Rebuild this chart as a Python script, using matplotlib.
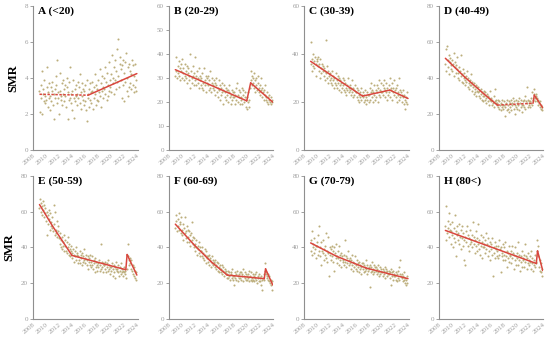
import numpy as np
import matplotlib
matplotlib.use("Agg")
import matplotlib.pyplot as plt

# ---------------- data (monthly SMR, Jan 2009 .. Dec 2023) ----------------
panel_titles = ["A (<20)", "B (20-29)", "C (30-39)", "D (40-49)",
                "E (50-59)", "F (60-69)", "G (70-79)", "H (80<)"]

smr_a = [3.3, 2.1, 3.6, 2.9, 4.4, 2.0, 3.1, 3.4, 2.7, 3.9, 3.0, 2.6,
         2.8, 3.5, 4.6, 2.4, 3.2, 2.9, 3.7, 2.2, 3.0, 3.5, 2.7, 3.3,
         3.8, 2.5, 3.1, 1.7, 3.4, 2.9, 4.1, 3.6, 2.6, 5.0, 3.2, 2.9,
         2.0, 3.3, 4.3, 2.8, 3.0, 3.7, 2.5, 3.9, 3.1, 2.7, 3.4, 3.6,
         3.0, 2.4, 3.5, 4.0, 1.7, 3.2, 2.8, 3.8, 2.9, 4.6, 3.1, 2.6,
         3.3, 2.2, 3.9, 2.9, 1.8, 3.4, 2.7, 3.6, 3.0, 3.1, 2.5, 3.8,
         2.9, 3.5, 4.2, 2.6, 3.2, 2.3, 3.7, 3.0, 2.8, 3.4, 2.5, 3.3,
         3.6, 2.7, 2.2, 3.9, 1.6, 3.1, 2.9, 3.4, 2.4, 3.7, 2.8, 3.2,
         2.6, 3.3, 3.8, 2.3, 3.5, 2.9, 4.2, 3.1, 2.5, 3.6, 2.8, 3.4,
         3.9, 2.7, 3.2, 4.5, 3.0, 2.4, 3.7, 3.3, 4.1, 2.9, 3.5, 4.0,
         3.4, 4.6, 3.1, 3.8, 2.8, 4.3, 3.6, 3.0, 4.9, 3.3, 3.9, 3.5,
         4.2, 3.2, 5.3, 3.7, 4.0, 3.1, 4.6, 3.9, 5.0, 3.4, 4.4, 3.8,
         5.6, 4.1, 6.2, 3.5, 4.8, 5.2, 3.9, 4.5, 2.9, 4.7, 3.6, 5.0,
         4.3, 2.7, 4.9, 3.8, 5.4, 4.0, 3.3, 4.6, 3.0, 4.8, 3.5, 4.4,
         3.7, 4.2, 3.4, 5.0, 3.6, 4.7, 3.2, 4.1, 3.5, 4.8, 3.9, 3.3]

smr_b = [31, 39, 33, 30, 35, 32, 37, 31, 34, 29, 36, 33,
         30, 38, 32, 34, 29, 36, 31, 33, 30, 35, 28, 32,
         34, 29, 31, 26, 40, 33, 30, 28, 35, 31, 27, 32,
         29, 39, 31, 27, 33, 28, 30, 34, 26, 29, 31, 27,
         30, 26, 32, 28, 25, 34, 29, 27, 31, 24, 28, 30,
         27, 31, 25, 29, 26, 33, 24, 28, 30, 26, 27, 29,
         25, 28, 23, 27, 30, 24, 26, 22, 29, 25, 27, 21,
         26, 23, 28, 24, 19, 25, 27, 22, 24, 26, 21, 25,
         23, 25, 20, 24, 27, 22, 23, 19, 25, 21, 24, 22,
         22, 24, 19, 23, 26, 21, 28, 20, 23, 22, 25, 19,
         24, 21, 22, 26, 19, 23, 25, 20, 22, 24, 18, 21,
         22, 17, 20, 24, 18, 21, 26, 33, 29, 31, 27, 30,
         28, 32, 26, 24, 29, 27, 30, 25, 28, 31, 26, 24,
         27, 23, 25, 30, 22, 26, 24, 21, 25, 23, 27, 22,
         21, 24, 20, 22, 19, 23, 21, 20, 22, 19, 21, 20]

smr_c = [36, 45, 33, 38, 35, 40, 37, 34, 39, 36, 31, 38,
         37, 35, 39, 33, 36, 30, 38, 34, 32, 36, 35, 33,
         31, 34, 29, 33, 46, 32, 30, 35, 28, 33, 31, 29,
         32, 28, 30, 27, 33, 29, 31, 26, 30, 28, 32, 27,
         29, 26, 31, 28, 25, 30, 27, 29, 24, 28, 26, 30,
         27, 25, 29, 24, 28, 26, 23, 27, 25, 30, 24, 26,
         25, 27, 23, 26, 29, 24, 22, 26, 25, 23, 27, 24,
         24, 22, 26, 21, 25, 23, 20, 24, 22, 26, 21, 23,
         22, 24, 20, 23, 21, 25, 19, 22, 24, 21, 23, 20,
         23, 26, 21, 24, 28, 22, 25, 20, 24, 27, 23, 21,
         25, 22, 27, 24, 20, 26, 23, 29, 25, 22, 24, 28,
         24, 27, 23, 26, 29, 22, 25, 28, 24, 21, 26, 23,
         27, 24, 30, 22, 26, 25, 28, 21, 24, 26, 29, 23,
         25, 22, 26, 20, 27, 23, 24, 30, 21, 25, 22, 24,
         23, 20, 22, 25, 19, 23, 21, 17, 22, 20, 24, 19]

smr_d = [48, 56, 44, 58, 50, 46, 53, 42, 49, 51, 45, 47,
         50, 44, 48, 54, 41, 46, 49, 43, 47, 45, 52, 40,
         43, 46, 39, 44, 41, 53, 38, 42, 45, 37, 40, 43,
         39, 36, 41, 38, 44, 35, 40, 37, 34, 39, 36, 42,
         36, 33, 38, 35, 31, 37, 34, 32, 36, 30, 35, 33,
         32, 35, 30, 33, 29, 31, 34, 28, 32, 30, 27, 33,
         30, 28, 32, 26, 29, 31, 27, 30, 25, 29, 33, 28,
         27, 29, 25, 28, 26, 30, 24, 27, 34, 26, 28, 25,
         26, 24, 28, 23, 27, 25, 22, 26, 24, 28, 25, 23,
         25, 27, 19, 24, 26, 22, 28, 25, 23, 27, 21, 26,
         24, 28, 22, 26, 25, 29, 23, 27, 20, 25, 28, 24,
         26, 23, 27, 25, 29, 22, 26, 24, 28, 21, 25, 27,
         25, 28, 24, 30, 23, 27, 26, 35, 24, 28, 25, 27,
         27, 24, 29, 26, 32, 25, 28, 31, 34, 29, 27, 31,
         30, 27, 29, 25, 28, 26, 24, 27, 23, 25, 22, 24]

smr_e = [62, 67, 60, 65, 58, 63, 61, 66, 57, 64, 59, 62,
         55, 60, 47, 58, 53, 61, 56, 50, 59, 54, 52, 57,
         51, 49, 64, 53, 47, 60, 50, 48, 55, 46, 52, 49,
         45, 42, 48, 40, 44, 46, 39, 43, 41, 47, 38, 44,
         41, 38, 43, 37, 40, 46, 36, 42, 39, 35, 41, 38,
         37, 34, 39, 36, 32, 38, 35, 40, 33, 37, 36, 31,
         35, 33, 38, 31, 36, 34, 30, 37, 32, 35, 39, 33,
         34, 31, 36, 30, 33, 35, 28, 32, 34, 30, 36, 29,
         32, 30, 35, 28, 33, 31, 26, 34, 29, 32, 30, 27,
         31, 29, 33, 27, 30, 42, 28, 32, 29, 26, 31, 30,
         30, 28, 32, 26, 29, 31, 27, 33, 28, 30, 25, 29,
         29, 27, 31, 24, 28, 30, 26, 29, 23, 28, 32, 27,
         28, 26, 30, 24, 27, 29, 25, 31, 26, 28, 24, 27,
         26, 29, 25, 27, 23, 28, 36, 42, 35, 33, 30, 34,
         31, 28, 33, 27, 30, 25, 29, 24, 27, 23, 26, 22]

smr_f = [51, 58, 55, 49, 56, 52, 59, 50, 54, 53, 48, 57,
         50, 47, 53, 44, 51, 48, 57, 45, 49, 52, 43, 50,
         46, 49, 43, 47, 41, 48, 44, 54, 42, 46, 40, 45,
         42, 38, 44, 40, 36, 41, 39, 43, 37, 40, 35, 38,
         38, 35, 40, 34, 37, 33, 39, 36, 31, 38, 35, 34,
         35, 32, 36, 30, 34, 33, 29, 35, 31, 33, 30, 32,
         31, 29, 33, 28, 30, 32, 27, 31, 29, 26, 30, 28,
         28, 26, 30, 25, 27, 29, 24, 28, 26, 25, 27, 23,
         25, 27, 23, 26, 24, 22, 26, 25, 23, 28, 24, 22,
         24, 19, 26, 23, 25, 22, 27, 24, 21, 25, 23, 26,
         23, 26, 22, 25, 24, 28, 21, 24, 26, 23, 25, 22,
         24, 22, 25, 23, 27, 21, 24, 22, 26, 23, 21, 25,
         22, 24, 21, 25, 23, 26, 22, 20, 24, 23, 21, 25,
         23, 21, 24, 19, 22, 16, 23, 25, 22, 31, 27, 25,
         26, 24, 23, 25, 22, 21, 24, 20, 22, 19, 21, 16]

smr_g = [38, 44, 36, 49, 40, 42, 37, 45, 39, 41, 34, 43,
         41, 36, 47, 38, 52, 35, 40, 43, 30, 38, 44, 37,
         39, 33, 41, 36, 48, 34, 38, 32, 46, 37, 24, 40,
         36, 39, 33, 41, 35, 38, 32, 40, 27, 37, 34, 42,
         35, 31, 38, 34, 41, 30, 36, 33, 37, 29, 35, 32,
         33, 36, 30, 44, 32, 35, 29, 34, 31, 38, 30, 33,
         31, 34, 28, 33, 30, 36, 27, 32, 29, 31, 35, 28,
         30, 27, 33, 29, 31, 26, 32, 28, 30, 25, 29, 31,
         28, 31, 26, 30, 27, 29, 33, 28, 25, 30, 27, 29,
         28, 18, 30, 26, 29, 27, 32, 25, 28, 30, 26, 29,
         27, 29, 25, 28, 26, 30, 24, 27, 29, 25, 28, 26,
         26, 28, 24, 27, 25, 29, 23, 26, 28, 24, 27, 25,
         25, 27, 23, 26, 19, 28, 24, 26, 22, 27, 25, 24,
         24, 26, 22, 25, 21, 27, 23, 29, 22, 25, 33, 24,
         23, 25, 21, 24, 22, 26, 20, 23, 19, 22, 24, 20]

smr_h = [52, 44, 63, 48, 55, 51, 59, 46, 53, 50, 42, 49,
         47, 54, 40, 51, 45, 58, 43, 49, 35, 47, 52, 44,
         48, 42, 53, 46, 50, 39, 45, 52, 41, 48, 44, 33,
         46, 30, 49, 43, 52, 41, 47, 38, 45, 50, 42, 44,
         43, 47, 40, 54, 42, 46, 37, 44, 49, 41, 45, 38,
         42, 53, 39, 44, 36, 47, 41, 43, 34, 46, 40, 42,
         40, 44, 37, 48, 39, 42, 35, 45, 38, 41, 33, 43,
         39, 42, 36, 45, 24, 40, 37, 43, 34, 39, 41, 35,
         38, 41, 34, 44, 36, 39, 26, 40, 35, 37, 42, 33,
         36, 40, 33, 43, 35, 38, 29, 37, 34, 41, 32, 36,
         35, 38, 31, 41, 34, 37, 28, 36, 33, 40, 30, 35,
         34, 37, 30, 43, 33, 36, 27, 35, 32, 38, 29, 34,
         33, 36, 29, 42, 32, 35, 28, 34, 31, 37, 30, 33,
         32, 35, 28, 38, 31, 34, 27, 33, 30, 36, 29, 32,
         31, 38, 44, 41, 35, 29, 33, 27, 31, 26, 28, 24]

# joinpoint trend lines: (years, fitted SMR, segment styles)
trend_a = ([2009, 2016.5, 2024], [3.1, 3.05, 4.25], ["--", "-"])
trend_b = ([2009, 2020.0, 2020.6, 2024], [33.5, 20.5, 28, 20], ["-", "-", "-"])
trend_c = ([2009, 2012, 2017, 2021.2, 2024], [37, 31.5, 22.5, 25, 21.5], ["-", "-", "-", "-"])
trend_d = ([2009, 2012, 2015, 2017, 2022.5, 2022.7, 2024], [51, 40.5, 31, 25, 26, 30.5, 23.5],
           ["-", "-", "-", "--", "-", "-"])
trend_e = ([2009, 2011, 2014, 2022.3, 2022.5, 2024], [64, 52, 35.5, 27.5, 36, 24.5],
           ["-", "-", "-", "-", "-"])
trend_f = ([2009, 2012, 2014.5, 2017, 2022.7, 2022.9, 2024], [53, 41, 32, 24.5, 22.5, 28, 19],
           ["-", "-", "-", "-", "-", "-"])
trend_g = ([2009, 2013, 2017.5, 2024], [42.5, 35, 28.5, 22.5], ["-", "-", "-"])
trend_h = ([2009, 2023, 2023.2, 2024], [49.5, 31, 38, 27], ["-", "-", "-"])

y_max = [8, 60, 60, 80, 80, 80, 80, 80]
y_step = [2, 10, 20, 20, 20, 20, 20, 20]
year_ticks = list(range(2008, 2025, 2))

series = [smr_a, smr_b, smr_c, smr_d, smr_e, smr_f, smr_g, smr_h]
trends = [trend_a, trend_b, trend_c, trend_d, trend_e, trend_f, trend_g, trend_h]

# ---------------- plotting ----------------
serif = ["Liberation Serif", "DejaVu Serif"]
plt.rcParams["font.family"] = serif

fig = plt.figure(figsize=(5.5, 3.41), dpi=100)
lefts = [0.060, 0.307, 0.553, 0.798]
width = 0.190
rows = [(0.560, 0.422), (0.065, 0.419)]

pt_color = "#bcae7c"
line_color = "#d9463d"
grey = "#8f8f8f"
tick_grey = "#9c9c9c"

for i in range(8):
    r, c = divmod(i, 4)
    ax = fig.add_axes([lefts[c], rows[r][0], width, rows[r][1]])
    vals = np.array(series[i], dtype=float)
    x = 2009 + np.arange(len(vals)) / 12.0
    ax.scatter(x, vals, s=2.2, color=pt_color, linewidths=0, zorder=2)
    tx, ty, st = trends[i]
    for k in range(len(st)):
        if st[k] == "--":
            ax.plot(tx[k:k + 2], ty[k:k + 2], color=line_color, lw=1.1,
                    ls=(0, (1.6, 1.0)), zorder=3)
        else:
            ax.plot(tx[k:k + 2], ty[k:k + 2], color=line_color, lw=1.1,
                    ls="-", zorder=3, solid_capstyle="round")
    ax.set_xlim(2008, 2024.1)
    ax.set_ylim(0, y_max[i])
    ax.set_yticks(np.arange(0, y_max[i] + 0.01, y_step[i]))
    ax.set_xticks(year_ticks)
    ax.set_xticklabels([str(t) for t in year_ticks], rotation=40, ha="right",
                       rotation_mode="anchor")
    for s in ["top", "right"]:
        ax.spines[s].set_visible(False)
    for s in ["left", "bottom"]:
        ax.spines[s].set_color(grey)
        ax.spines[s].set_linewidth(0.8)
    ax.tick_params(axis="both", labelsize=5, colors=grey, labelcolor=tick_grey,
                   length=2, width=0.6, pad=1.5)
    ax.tick_params(axis="x", length=0, pad=2)
    ax.text(0.05, 0.995, panel_titles[i], transform=ax.transAxes, ha="left", va="top",
            fontsize=8.2, fontweight="bold", color="black")
    if c == 0:
        ax.set_ylabel("SMR", fontsize=9, fontweight="bold", labelpad=4)

fig.savefig("out.png", dpi=100)
